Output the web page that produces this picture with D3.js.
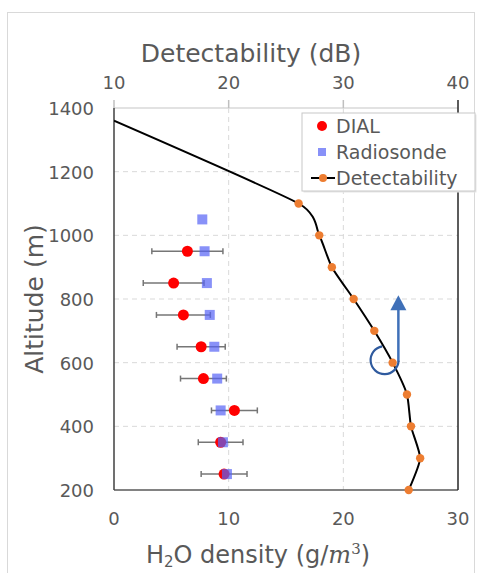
<!DOCTYPE html>
<html>
<head>
<meta charset="utf-8">
<script src="https://cdn.jsdelivr.net/npm/d3@7"></script>
<style>
  body { margin: 0; background: #fff; }
  svg text { font-family: "DejaVu Sans", sans-serif; fill: #595959; }
</style>
</head>
<body>
<div id="chart"></div>
<script>
// DIAL retrievals (g/m3) with error half-widths
const dialAlt = [950, 850, 750, 650, 550, 450, 350, 250];
const dialVal = [6.4, 5.2, 6.05, 7.6, 7.8, 10.5, 9.3, 9.6];
const dialErr = [3.1, 2.65, 2.35, 2.1, 2.0, 2.0, 1.95, 2.0];

// radiosonde (g/m3)
const sondeAlt = [1050, 950, 850, 750, 650, 550, 450, 350, 250];
const sondeVal = [7.7, 7.9, 8.1, 8.35, 8.75, 9.0, 9.3, 9.5, 9.85];

// detectability (dB), top axis
const detAlt = [1100, 1000, 900, 800, 700, 600, 500, 400, 300, 200];
const detDb = [26.1, 27.9, 29.0, 30.9, 32.7, 34.3, 35.55, 35.9, 36.7, 35.7];
const detTop = { db: 10, alt: 1360 };   // line runs off the top-left

const xTicks = [0, 10, 20, 30];
const x2Ticks = [10, 20, 30, 40];
const yTicks = [200, 400, 600, 800, 1000, 1200, 1400];
const legendLabels = ["DIAL", "Radiosonde", "Detectability"];

// annotation arrow (bottom-axis units / altitude)
const arrowX = 24.8, arrowFrom = 603, arrowTo = 812;
const curlX = 23.6, curlAlt = 608;

const W = 481, H = 573;
const m = { left: 114, top: 108, right: 23, bottom: 83 };
const w = W - m.left - m.right, h = H - m.top - m.bottom;

const svg = d3.select("#chart").append("svg")
  .attr("width", W).attr("height", H);

// outer frame
svg.append("rect")
  .attr("x", 7.5).attr("y", 12.5).attr("width", 467).attr("height", 575)
  .attr("fill", "none").attr("stroke", "#d9d9d9");

svg.append("clipPath").attr("id", "plotclip").append("rect")
  .attr("width", w).attr("height", h);

const g = svg.append("g").attr("transform", `translate(${m.left},${m.top})`);

const x = d3.scaleLinear().domain([0, 30]).range([0, w]);
const x2 = d3.scaleLinear().domain([10, 40]).range([0, w]);
const y = d3.scaleLinear().domain([200, 1400]).range([h, 0]);

// grid
g.selectAll(".hgrid").data(yTicks.filter(d => d > 200 && d < 1400)).enter()
  .append("line").attr("class", "hgrid")
  .attr("x1", 0).attr("x2", w).attr("y1", d => y(d)).attr("y2", d => y(d))
  .attr("stroke", "#d9d9d9").attr("stroke-dasharray", "5,4");
g.selectAll(".vgrid").data(xTicks.filter(d => d > 0 && d < 30)).enter()
  .append("line").attr("class", "vgrid")
  .attr("x1", d => x(d)).attr("x2", d => x(d)).attr("y1", 0).attr("y2", h)
  .attr("stroke", "#d9d9d9").attr("stroke-dasharray", "5,4");

// frame lines
g.append("line").attr("x1", 0).attr("x2", w).attr("y1", 0).attr("y2", 0)
  .attr("stroke", "#d9d9d9").attr("stroke-width", 1.5);
g.append("line").attr("x1", 0).attr("x2", w).attr("y1", h).attr("y2", h)
  .attr("stroke", "#595959").attr("stroke-width", 1.5);
g.append("line").attr("x1", 0).attr("x2", 0).attr("y1", 0).attr("y2", h)
  .attr("stroke", "#404040").attr("stroke-width", 1.5);
g.append("line").attr("x1", w).attr("x2", w).attr("y1", 0).attr("y2", h)
  .attr("stroke", "#262626").attr("stroke-width", 1.5);

// top axis ticks
g.selectAll(".ttick").data(x2Ticks).enter().append("line")
  .attr("x1", d => x2(d)).attr("x2", d => x2(d)).attr("y1", -8).attr("y2", 0)
  .attr("stroke", d => d === 40 ? "#262626" : "#bfbfbf").attr("stroke-width", 1.5);

// tick labels
g.selectAll(".ylab").data(yTicks).enter().append("text")
  .attr("x", -20).attr("y", d => y(d) + 7)
  .attr("text-anchor", "end").style("font-size", "18px").text(d => d);
g.selectAll(".xlab").data(xTicks).enter().append("text")
  .attr("x", d => x(d)).attr("y", 525 - m.top)
  .attr("text-anchor", "middle").style("font-size", "18px").text(d => d);
g.selectAll(".x2lab").data(x2Ticks).enter().append("text")
  .attr("x", d => x2(d)).attr("y", 89 - m.top)
  .attr("text-anchor", "middle").style("font-size", "18px").text(d => d);

// titles
svg.append("text").attr("x", 251).attr("y", 62)
  .attr("text-anchor", "middle").style("font-size", "25px").text("Detectability (dB)");
svg.append("text").attr("transform", "translate(43,299) rotate(-90)")
  .attr("text-anchor", "middle").style("font-size", "25px")
  .text("Altitude (m)");
const xt = svg.append("text").attr("x", 258).attr("y", 563)
  .attr("text-anchor", "middle").style("font-size", "24px");
xt.append("tspan").text("H");
xt.append("tspan").attr("baseline-shift", "-25%").style("font-size", "15px").text("2");
xt.append("tspan").text("O density (g/");
xt.append("tspan").style("font-family", "'DejaVu Serif', serif").style("font-style", "italic").text("m");
xt.append("tspan").attr("baseline-shift", "super").style("font-size", "15px")
  .style("font-family", "'DejaVu Serif', serif").text("3");
xt.append("tspan").text(")");

// detectability curve
const detPts = [[detTop.db, detTop.alt]].concat(detAlt.map((a, i) => [detDb[i], a]));
const line = d3.line().x(d => x2(d[0])).y(d => y(d[1])).curve(d3.curveCardinal.tension(0.45));
g.append("path").attr("d", line(detPts)).attr("clip-path", "url(#plotclip)")
  .attr("fill", "none").attr("stroke", "#000").attr("stroke-width", 2);
g.selectAll(".det").data(detAlt).enter().append("circle")
  .attr("cx", (d, i) => x2(detDb[i])).attr("cy", d => y(d)).attr("r", 4.2)
  .attr("fill", "#ed7d31");

// DIAL error bars
const eb = g.selectAll(".eb").data(dialAlt).enter().append("g")
  .attr("stroke", "#767676").attr("stroke-width", 1.5);
eb.append("line")
  .attr("x1", (d, i) => x(dialVal[i] - dialErr[i])).attr("x2", (d, i) => x(dialVal[i] + dialErr[i]))
  .attr("y1", d => y(d)).attr("y2", d => y(d));
eb.append("line")
  .attr("x1", (d, i) => x(dialVal[i] - dialErr[i])).attr("x2", (d, i) => x(dialVal[i] - dialErr[i]))
  .attr("y1", d => y(d) - 3).attr("y2", d => y(d) + 3);
eb.append("line")
  .attr("x1", (d, i) => x(dialVal[i] + dialErr[i])).attr("x2", (d, i) => x(dialVal[i] + dialErr[i]))
  .attr("y1", d => y(d) - 3).attr("y2", d => y(d) + 3);

// DIAL points
g.selectAll(".dial").data(dialAlt).enter().append("circle")
  .attr("cx", (d, i) => x(dialVal[i])).attr("cy", d => y(d)).attr("r", 5.5)
  .attr("fill", "#ff0000");

// radiosonde squares
const sq = 10;
g.selectAll(".sonde").data(sondeAlt).enter().append("rect")
  .attr("x", (d, i) => x(sondeVal[i]) - sq / 2).attr("y", d => y(d) - sq / 2)
  .attr("width", sq).attr("height", sq)
  .attr("fill", "#5563f5").attr("fill-opacity", 0.7);

// annotation: arrow + curl
const ax = x(arrowX);
g.append("line").attr("x1", ax).attr("x2", ax).attr("y1", y(arrowFrom)).attr("y2", y(arrowTo) + 14)
  .attr("stroke", "#3f70b8").attr("stroke-width", 2.5);
g.append("path")
  .attr("d", `M${ax},${y(arrowTo)} L${ax - 8},${y(arrowTo) + 15} L${ax + 8},${y(arrowTo) + 15} Z`)
  .attr("fill", "#3f70b8");
const cp = d3.path();
cp.arc(x(curlX), y(curlAlt), 14, -100 * Math.PI / 180, -2 * Math.PI + 0.05, true);
g.append("path").attr("d", cp.toString())
  .attr("fill", "none").attr("stroke", "#2f5a9e").attr("stroke-width", 2.2);

// legend
const lg = svg.append("g").attr("transform", "translate(302,113)");
lg.append("rect").attr("x", 1.5).attr("y", 1.5).attr("width", 173).attr("height", 78)
  .attr("fill", "#e6e6e6");
lg.append("rect").attr("width", 173).attr("height", 78)
  .attr("fill", "#fff").attr("stroke", "#c8c8c8");
const rowY = [13, 39, 65];
lg.append("circle").attr("cx", 20).attr("cy", rowY[0]).attr("r", 5).attr("fill", "#ff0000");
lg.append("rect").attr("x", 16).attr("y", rowY[1] - 4).attr("width", 8).attr("height", 8)
  .attr("fill", "#5563f5").attr("fill-opacity", 0.7);
lg.append("line").attr("x1", 9).attr("x2", 33).attr("y1", rowY[2]).attr("y2", rowY[2])
  .attr("stroke", "#000").attr("stroke-width", 2);
lg.append("circle").attr("cx", 21).attr("cy", rowY[2]).attr("r", 4).attr("fill", "#ed7d31");
lg.selectAll(".lt").data(legendLabels).enter().append("text")
  .attr("x", 34).attr("y", (d, i) => rowY[i] + 7)
  .style("font-size", "19px").text(d => d);
</script>
</body>
</html>
